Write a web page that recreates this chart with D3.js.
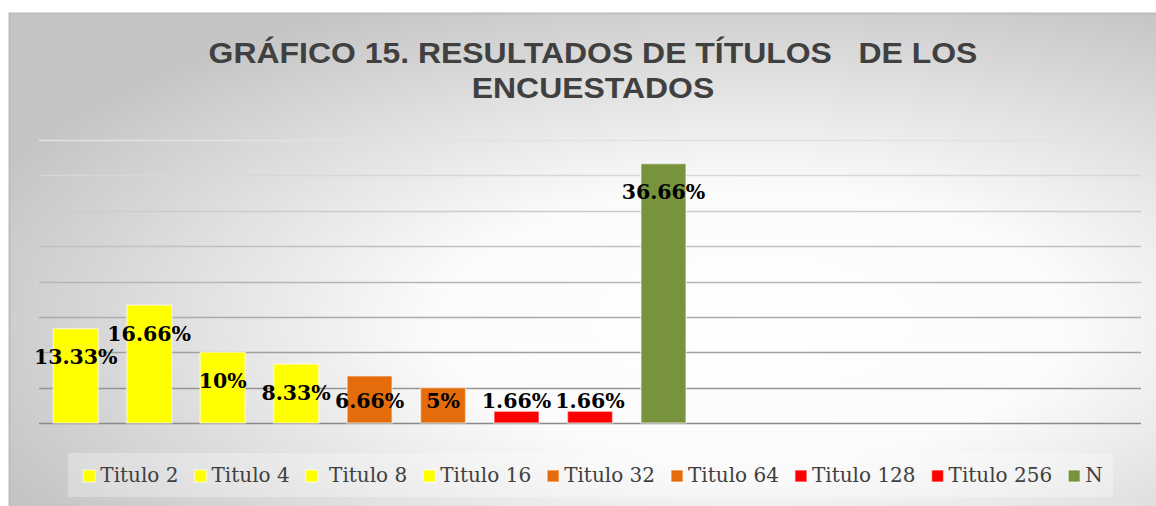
<!DOCTYPE html>
<html>
<head>
<meta charset="utf-8">
<script src="https://cdn.jsdelivr.net/npm/d3@7"></script>
<style>
  body { margin: 0; background: #fff; }
</style>
</head>
<body>
<script>
// data
const categories = ["Titulo 2", "Titulo 4", " Titulo 8", "Titulo 16", "Titulo 32", "Titulo 64", "Titulo 128", "Titulo 256", "N"];
const values = [13.33, 16.66, 10, 8.33, 6.66, 5, 1.66, 1.66, 36.66];
const yTicks = [0, 5, 10, 15, 20, 25, 30, 35, 40];
const titleLines = ["GRÁFICO 15. RESULTADOS DE TÍTULOS   DE LOS", "ENCUESTADOS"];

const barColors = ["#FFFF00", "#FFFF00", "#FFFF00", "#FFFF00", "#E46C0A", "#E46C0A", "#FF0000", "#FF0000", "#77933C"];

const width = 1156;
const height = 506;
const plotLeft = 39, plotRight = 1141, plotTop = 140, plotBottom = 423;
const slots = 15; // cluster space holds 15 series slots, only 9 used

const svg = d3.select("body")
  .append("svg")
  .attr("width", width)
  .attr("height", height)
  .attr("viewBox", `0 0 ${width} ${height}`);

const defs = svg.append("defs");

const bg = defs.append("radialGradient")
  .attr("id", "bg")
  .attr("cx", 0.64).attr("cy", 0.62).attr("r", 0.72)
  .attr("fx", 0.64).attr("fy", 0.62);
bg.append("stop").attr("offset", 0).attr("stop-color", "#ffffff");
bg.append("stop").attr("offset", 0.38).attr("stop-color", "#fbfbfb");
bg.append("stop").attr("offset", 1).attr("stop-color", "#c4c4c4");

const gridGrad = defs.append("linearGradient")
  .attr("id", "grid")
  .attr("gradientUnits", "userSpaceOnUse")
  .attr("x1", 0).attr("y1", plotTop).attr("x2", 0).attr("y2", plotBottom);
gridGrad.append("stop").attr("offset", 0).attr("stop-color", "#e2e2e2");
gridGrad.append("stop").attr("offset", 1).attr("stop-color", "#8a8a8a");

// chart frame
svg.append("rect")
  .attr("x", 9.5)
  .attr("y", 13.5)
  .attr("width", 1160)
  .attr("height", 500)
  .attr("fill", "url(#bg)")
  .attr("stroke", "#bdbdbd")
  .attr("stroke-width", 2);

// title (the source picture is a bit stretched sideways)
const title = svg.append("text")
  .attr("text-anchor", "middle")
  .attr("fill", "#404040")
  .style("font-family", "'Liberation Sans', Arial, sans-serif")
  .style("font-weight", "700")
  .style("font-size", "29px")
  .style("white-space", "pre");

title.selectAll("tspan")
  .data(titleLines)
  .join("tspan")
  .attr("x", 0)
  .attr("y", (d, i) => 63.5 + i * 35)
  .text((d) => d);

const firstW = title.select("tspan").node().getComputedTextLength();
title.attr("transform", `translate(593,0) scale(${769 / firstW},1)`);

const x = d3.scaleBand()
  .domain(categories)
  .range([plotLeft, plotLeft + (plotRight - plotLeft) * categories.length / slots])
  .paddingInner(0.387)
  .paddingOuter(0.1935);

const y = d3.scaleLinear()
  .domain([0, 40])
  .range([plotBottom, plotTop]);

// gridlines
svg.append("g")
  .selectAll("line")
  .data(yTicks)
  .join("line")
  .attr("x1", plotLeft)
  .attr("x2", plotRight)
  .attr("y1", (d) => Math.round(y(d)) + 0.5)
  .attr("y2", (d) => Math.round(y(d)) + 0.5)
  .attr("stroke", "url(#grid)")
  .attr("stroke-width", 1.3);

// bars
svg.append("g")
  .selectAll("rect")
  .data(values)
  .join("rect")
  .attr("x", (d, i) => x(categories[i]))
  .attr("y", (d) => y(d))
  .attr("width", x.bandwidth())
  .attr("height", (d) => y(0) - y(d))
  .attr("fill", (d, i) => barColors[i])
  .attr("stroke", "#ffffff")
  .attr("stroke-opacity", 0.5)
  .attr("stroke-width", 1.5);

// data labels (inside end, pushed above base when bar is short)
svg.append("g")
  .selectAll("text")
  .data(values)
  .join("text")
  .attr("x", (d, i) => x(categories[i]) + x.bandwidth() / 2)
  .attr("y", (d) => Math.min(y(d) + 28, y(0) - 23))
  .attr("dy", "0.37em")
  .attr("text-anchor", "middle")
  .attr("fill", "#000")
  .style("font-family", "'DejaVu Serif', serif")
  .style("font-weight", "700")
  .style("font-size", "20.5px")
  .text((d) => d + "%");

// legend
svg.append("rect")
  .attr("x", 68)
  .attr("y", 453)
  .attr("width", 1045)
  .attr("height", 44)
  .attr("fill", "#ffffff")
  .attr("fill-opacity", 0.3);

const legend = svg.append("g");
const items = legend.selectAll("g")
  .data(categories)
  .join("g");

items.append("rect")
  .attr("width", 12)
  .attr("height", 12)
  .attr("y", 470)
  .attr("fill", (d, i) => barColors[i])
  .attr("stroke", "#ffffff")
  .attr("stroke-opacity", 0.5)
  .attr("stroke-width", 1.5);

items.append("text")
  .attr("x", 17)
  .attr("y", 482)
  .attr("fill", "#404040")
  .style("font-family", "'DejaVu Serif', serif")
  .style("font-size", "20px")
  .style("white-space", "pre")
  .text((d) => d);

// lay out items left to right, then centre the row
const gap = 16;
let cursor = 0;
items.each(function () {
  const g = d3.select(this);
  const w = 17 + g.select("text").node().getComputedTextLength();
  g.attr("transform", `translate(${cursor},0)`);
  cursor += w + gap;
});
const rowWidth = cursor - gap;
legend.attr("transform", `translate(${593 - rowWidth / 2},0)`);
</script>
</body>
</html>
